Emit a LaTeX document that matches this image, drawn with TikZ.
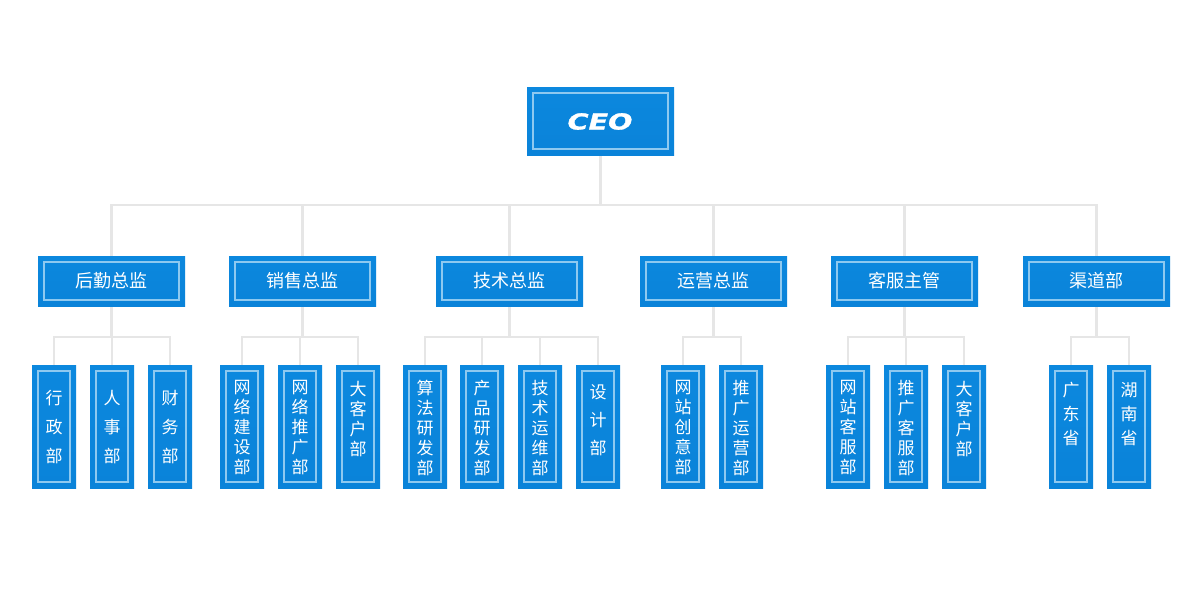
\documentclass[tikz,border=0pt]{standalone}
\usepackage{fontspec}
\newfontfamily\cjk{Noto Sans CJK SC}
\newfontfamily\ceofont{DejaVu Sans}[BoldItalicFeatures={FakeBold=1.2}]
\definecolor{boxblue}{HTML}{0A83D9}
\definecolor{boxblueTop}{HTML}{0C88DE}
\definecolor{innerline}{HTML}{8EC9F0}
\definecolor{connline}{HTML}{E6E6E6}
\pgfdeclarelayer{background}
\pgfsetlayers{background,main}
\tikzset{
  ubox/.style={draw=none, top color=boxblueTop, bottom color=boxblue, inner sep=0pt,
    path picture={\draw[innerline, line width=1.6pt]
      ([shift={(6pt,-6pt)}]path picture bounding box.north west) rectangle
      ([shift={(-6pt,6pt)}]path picture bounding box.south east);}},
  ceobox/.style={ubox, minimum width=147pt, minimum height=68pt},
  midbox/.style={ubox, minimum width=147pt, minimum height=50pt, text=white, font=\cjk\fontsize{18}{20}\selectfont},
  subbox/.style={ubox, minimum width=44pt, minimum height=123pt},
  vtext/.style={text=white, align=center, inner sep=0pt, font=\cjk\fontsize{17}{20}\selectfont},
  vwide/.style={vtext, font=\cjk\fontsize{17}{29}\selectfont},
  vmid/.style={vtext, font=\cjk\fontsize{17}{24}\selectfont},
  conn/.style={draw=connline, line width=2.4pt}
}
\begin{document}
\begin{tikzpicture}[x=1pt,y=-1pt]
\begin{pgfonlayer}{background}
\fill[white] (0,0) rectangle (1200,600);
\end{pgfonlayer}
\useasboundingbox (0,0) rectangle (1200,600);

% CEO
\node[ceobox] (ceo) at (600.5,121) {};
\node[text=white, font=\ceofont\bfseries\itshape\fontsize{22}{24}\selectfont, xscale=1.3, inner sep=0pt] (ceot) at (600,121.5) {CEO};

% level 2
\node[midbox] (l1) at (111.5,281) {后勤总监};
\node[midbox] (l2) at (302.5,281) {销售总监};
\node[midbox] (l3) at (509.5,281) {技术总监};
\node[midbox] (l4) at (713.5,281) {运营总监};
\node[midbox] (l5) at (904.5,281) {客服主管};
\node[midbox] (l6) at (1096.5,281) {渠道部};

% level 3 boxes
\foreach \n/\x in {s11/54, s12/112, s13/170,
                   s21/242, s22/300, s23/358,
                   s31/425, s32/482, s33/540, s34/598,
                   s41/683, s42/741,
                   s51/848, s52/906, s53/964,
                   s61/1071, s62/1129}
  \node[subbox] (\n) at (\x,426.5) {};

% level 3 texts
\node[vwide] (t11) at (s11 |- 0,427) {行\\政\\部};
\node[vwide] (t12) at (s12 |- 0,427) {人\\事\\部};
\node[vwide] (t13) at (s13 |- 0,427) {财\\务\\部};
\node[vtext] (t21) at (s21 |- 0,428) {网\\络\\建\\设\\部};
\node[vtext] (t22) at (s22 |- 0,428) {网\\络\\推\\广\\部};
\node[vtext] (t23) at (s23 |- 0,419) {大\\客\\户\\部};
\node[vtext] (t31) at (s31 |- 0,428) {算\\法\\研\\发\\部};
\node[vtext] (t32) at (s32 |- 0,428) {产\\品\\研\\发\\部};
\node[vtext] (t33) at (s33 |- 0,428) {技\\术\\运\\维\\部};
\node[vwide, font=\cjk\fontsize{17}{28}\selectfont] (t34) at (s34 |- 0,420) {设\\计\\部};
\node[vtext] (t41) at (s41 |- 0,428) {网\\站\\创\\意\\部};
\node[vtext] (t42) at (s42 |- 0,428) {推\\广\\运\\营\\部};
\node[vtext] (t51) at (s51 |- 0,428) {网\\站\\客\\服\\部};
\node[vtext] (t52) at (s52 |- 0,428) {推\\广\\客\\服\\部};
\node[vtext] (t53) at (s53 |- 0,419) {大\\客\\户\\部};
\node[vmid] (t61) at (s61 |- 0,414) {广\\东\\省};
\node[vmid] (t62) at (s62 |- 0,414) {湖\\南\\省};

\begin{pgfonlayer}{background}
% connectors CEO -> level 2
\foreach \c in {l1,l2,l3,l4,l5,l6}
  \draw[conn] (ceo.south) -- ++(0,50) -| (\c.north);

% connectors level 2 -> level 3
\foreach \c in {s11,s12,s13}
  \draw[conn] (l1.south) -- ++(0,31) -| (\c.north);
\foreach \c in {s21,s22,s23}
  \draw[conn] (l2.south) -- ++(0,31) -| (\c.north);
\foreach \c in {s31,s32,s33,s34}
  \draw[conn] (l3.south) -- ++(0,31) -| (\c.north);
\foreach \c in {s41,s42}
  \draw[conn] (l4.south) -- ++(0,31) -| (\c.north);
\foreach \c in {s51,s52,s53}
  \draw[conn] (l5.south) -- ++(0,31) -| (\c.north);
\foreach \c in {s61,s62}
  \draw[conn] (l6.south) -- ++(0,31) -| (\c.north);
\end{pgfonlayer}
\end{tikzpicture}
\end{document}
